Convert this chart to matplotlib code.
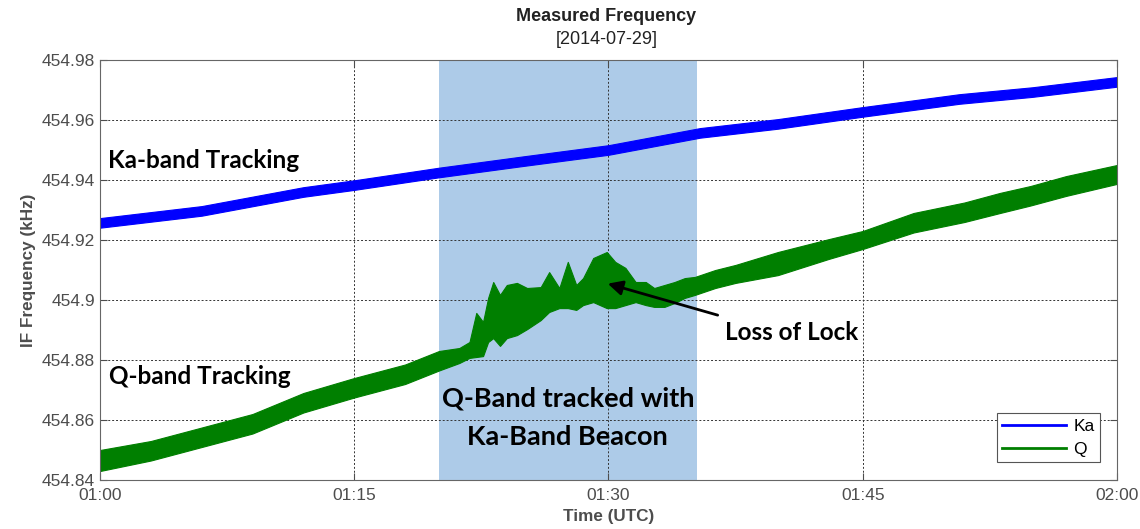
import matplotlib
matplotlib.use("Agg")
import matplotlib.pyplot as plt
from matplotlib.lines import Line2D

plt.rcParams['font.family'] = ['Liberation Sans', 'DejaVu Sans']

# minutes after 01:00 UTC, values in kHz (low / high edge of the noisy trace)
ka_min = [0, 6, 12, 15, 20, 25, 30, 35.4, 40, 45, 50.7, 55, 60]
ka_mid = [454.9257, 454.9297, 454.9360, 454.9383, 454.9425, 454.9463, 454.9500,
          454.9557, 454.9587, 454.9627, 454.9670, 454.9693, 454.9727]
ka_half = 0.0016

q_min = [0, 3, 6, 9, 12, 15, 18, 20, 21.2, 21.8, 22.2, 22.6, 22.9, 23.2, 23.6,
         24.0, 24.6, 25.2, 26.0, 26.5, 27.1, 27.6, 28.1, 28.5, 29.1, 29.9, 30.4,
         31.0, 31.6, 32.2, 32.7, 33.3, 33.9, 34.5, 35.1, 36.3, 37.5, 40, 43, 45,
         48, 51, 53.1, 54.9, 57, 60]
q_low = [454.8430, 454.8465, 454.8510, 454.8555, 454.8625, 454.8675, 454.8720,
         454.8765, 454.8790, 454.8807, 454.8810, 454.8813, 454.8860, 454.8873,
         454.8847, 454.8873, 454.8883, 454.8903, 454.8933, 454.8960, 454.8973,
         454.8973, 454.8967, 454.8983, 454.8993, 454.8973, 454.8973, 454.8983,
         454.8993, 454.8983, 454.8977, 454.8977, 454.8990, 454.9007, 454.9017,
         454.9040, 454.9057, 454.9083, 454.9137, 454.9170, 454.9225, 454.9260,
         454.9290, 454.9315, 454.9347, 454.9387]
q_high = [454.8500, 454.8530, 454.8575, 454.8620, 454.8690, 454.8740, 454.8785,
          454.8830, 454.8840, 454.8860, 454.8957, 454.8927, 454.9007, 454.9060,
          454.9017, 454.9050, 454.9057, 454.9040, 454.9043, 454.9093, 454.9040,
          454.9127, 454.9050, 454.9073, 454.9140, 454.9160, 454.9127, 454.9107,
          454.9060, 454.9060, 454.9040, 454.9050, 454.9060, 454.9073, 454.9077,
          454.9100, 454.9117, 454.9160, 454.9203, 454.9230, 454.9290, 454.9325,
          454.9357, 454.9380, 454.9413, 454.9450]

x_ticks = [0, 15, 30, 45, 60]
x_labels = ["01:00", "01:15", "01:30", "01:45", "02:00"]
y_ticks = [454.84, 454.86, 454.88, 454.90, 454.92, 454.94, 454.96, 454.98]
y_labels = ["454.84", "454.86", "454.88", "454.9", "454.92", "454.94", "454.96", "454.98"]
beacon_span = [20.0, 35.25]

grey = "#4d4d4d"

fig = plt.figure(figsize=(11.4, 5.29), dpi=100)
ax = fig.add_axes([0.0877, 0.0926, 0.8921, 0.794])

ax.axvspan(beacon_span[0], beacon_span[1], color="#adcbe8", lw=0, zorder=1)

ka_lo = [v - ka_half for v in ka_mid]
ka_hi = [v + ka_half for v in ka_mid]
ax.fill_between(ka_min, ka_lo, ka_hi, color="#0000ff", lw=0.8, edgecolor="#0000ff", zorder=2)
ax.fill_between(q_min, q_low, q_high, color="#007f00", lw=0.8, edgecolor="#007f00", zorder=2)

ax.set_xlim(0, 60)
ax.set_ylim(454.84, 454.98)
ax.set_xticks(x_ticks)
ax.set_xticklabels(x_labels)
ax.set_yticks(y_ticks)
ax.set_yticklabels(y_labels)
ax.tick_params(direction="in", length=5, color=grey, labelcolor=grey, labelsize=12.5,
               top=True, right=True)
ax.tick_params(axis="x", pad=6)
ax.grid(True, linestyle=(0, (2, 2)), color="#333333", lw=0.7)
for s in ax.spines.values():
    s.set_color("#666666")

ax.set_xlabel("Time (UTC)", fontsize=12.3, fontweight="bold", color=grey, labelpad=4)
ax.set_ylabel("IF Frequency (kHz)", fontsize=12.3, fontweight="bold", color=grey, labelpad=4)

fig.text(0.532, 0.968, "Measured Frequency", ha="center", va="center",
         fontsize=13, fontweight="bold", color="#222222")
fig.text(0.532, 0.926, "[2014-07-29]", ha="center", va="center",
         fontsize=13, color="#222222")

lab = dict(fontweight="bold", family="Lato", color="black")
ax.text(0.45, 454.9465, "Ka-band Tracking", va="center", ha="left", fontsize=17.5, **lab)
ax.text(0.55, 454.8745, "Q-band Tracking", va="center", ha="left", fontsize=17.5, **lab)
ax.text(27.6, 454.8672, "Q-Band tracked with", va="center", ha="center", fontsize=19.5, **lab)
ax.text(27.6, 454.8543, "Ka-Band Beacon", va="center", ha="center", fontsize=19.5, **lab)
ax.text(36.85, 454.8893, "Loss of Lock", va="center", ha="left", fontsize=17.5, **lab)
ax.annotate("", xy=(29.8, 454.9057), xytext=(36.6, 454.8947),
            arrowprops=dict(arrowstyle="-|>", color="black", lw=2, mutation_scale=22))

handles = [Line2D([], [], color="#0000ff", lw=2), Line2D([], [], color="#007f00", lw=2)]
leg = ax.legend(handles, ["Ka", "Q"], loc="lower right", bbox_to_anchor=(0.983, 0.043),
                fontsize=12.5, fancybox=False, framealpha=1, edgecolor="#555555",
                handlelength=3.7, handletextpad=0.4, borderpad=0.3, labelspacing=0.45,
                borderaxespad=0)
leg.get_frame().set_linewidth(0.8)

fig.savefig("out.png", dpi=100)
